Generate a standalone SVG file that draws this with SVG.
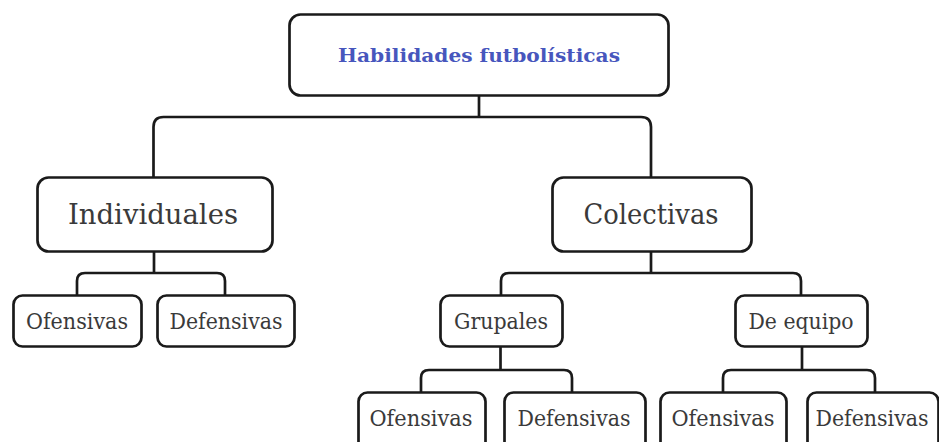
<svg xmlns="http://www.w3.org/2000/svg" width="939" height="442" viewBox="0 0 939 442">
<style>
.box{fill:#fff;stroke:#1a1a1a;stroke-width:2.7}
.ln{fill:none;stroke:#1a1a1a;stroke-width:2.7}
.t{font-family:"DejaVu Serif","Liberation Serif",serif;fill:#3a3a3a;text-anchor:middle}
.big{font-size:28px}
.sm{font-size:22px}
.ttl{font-family:"DejaVu Serif","Liberation Serif",serif;font-weight:bold;font-size:19px;fill:#4756bd;text-anchor:middle}
</style>
<rect width="939" height="442" fill="#fff"/>
<g id="connectors">
<path class="ln" d="M479,96 V117"/>
<path class="ln" d="M153.5,177 V127 Q153.5,117 163.5,117 H641 Q651,117 651,127 V177"/>
<path class="ln" d="M154,252 V273"/>
<path class="ln" d="M77,295 V281 Q77,273 85,273 H217 Q225,273 225,281 V295"/>
<path class="ln" d="M651,252 V273"/>
<path class="ln" d="M501,295 V281 Q501,273 509,273 H793 Q801,273 801,281 V295"/>
<path class="ln" d="M500.5,347 V370"/>
<path class="ln" d="M421,392 V378 Q421,370 429,370 H564 Q572,370 572,378 V392"/>
<path class="ln" d="M802,347 V370"/>
<path class="ln" d="M723,392 V378 Q723,370 731,370 H867 Q875,370 875,378 V392"/>
</g>
<g id="n-root">
<rect class="box" x="289.5" y="14.5" width="379" height="81" rx="11"/>
<text class="ttl" x="479" y="62" textLength="282" lengthAdjust="spacingAndGlyphs">Habilidades futbolísticas</text>
</g>
<g id="n-individuales">
<rect class="box" x="37.5" y="177.5" width="235" height="74" rx="11"/>
<text class="t big" x="153" y="224" textLength="170" lengthAdjust="spacingAndGlyphs">Individuales</text>
</g>
<g id="n-colectivas">
<rect class="box" x="552.5" y="177.5" width="199" height="74" rx="11"/>
<text class="t big" x="651" y="224" textLength="135" lengthAdjust="spacingAndGlyphs">Colectivas</text>
</g>
<g id="n-ind-ofensivas">
<rect class="box" x="13.5" y="295.5" width="128" height="51" rx="9"/>
<text class="t sm" x="77" y="329" textLength="102" lengthAdjust="spacingAndGlyphs">Ofensivas</text>
</g>
<g id="n-ind-defensivas">
<rect class="box" x="157.5" y="295.5" width="137" height="51" rx="9"/>
<text class="t sm" x="226" y="329" textLength="113" lengthAdjust="spacingAndGlyphs">Defensivas</text>
</g>
<g id="n-grupales">
<rect class="box" x="440.5" y="295.5" width="122" height="51" rx="9"/>
<text class="t sm" x="501" y="329" textLength="94" lengthAdjust="spacingAndGlyphs">Grupales</text>
</g>
<g id="n-equipo">
<rect class="box" x="735.5" y="295.5" width="132" height="51" rx="9"/>
<text class="t sm" x="801" y="329" textLength="105" lengthAdjust="spacingAndGlyphs">De equipo</text>
</g>
<g id="n-gru-ofensivas">
<rect class="box" x="358.5" y="392.5" width="127" height="60" rx="9"/>
<text class="t sm" x="421" y="426" textLength="103" lengthAdjust="spacingAndGlyphs">Ofensivas</text>
</g>
<g id="n-gru-defensivas">
<rect class="box" x="504.5" y="392.5" width="141" height="60" rx="9"/>
<text class="t sm" x="574" y="426" textLength="113" lengthAdjust="spacingAndGlyphs">Defensivas</text>
</g>
<g id="n-eq-ofensivas">
<rect class="box" x="660.5" y="392.5" width="126" height="60" rx="9"/>
<text class="t sm" x="723" y="426" textLength="103" lengthAdjust="spacingAndGlyphs">Ofensivas</text>
</g>
<g id="n-eq-defensivas">
<rect class="box" x="807.5" y="392.5" width="131" height="60" rx="9"/>
<text class="t sm" x="872" y="426" textLength="113" lengthAdjust="spacingAndGlyphs">Defensivas</text>
</g>
</svg>
